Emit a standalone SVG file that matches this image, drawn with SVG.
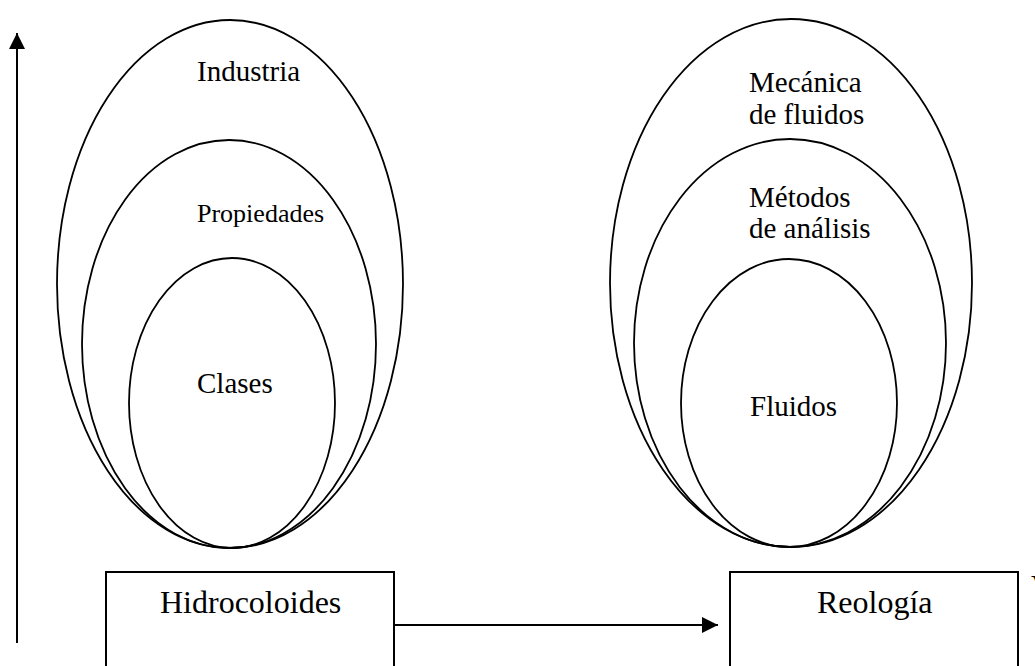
<svg xmlns="http://www.w3.org/2000/svg" width="1035" height="666" viewBox="0 0 1035 666">
  <defs>
    <marker id="arrowBig" viewBox="0 0 16 16" refX="16" refY="8" markerWidth="16" markerHeight="16" markerUnits="userSpaceOnUse" orient="auto">
      <path d="M0,0 L16,8 L0,16 z" fill="#000"/>
    </marker>
  </defs>
  <style>
    .ring { fill: none; stroke: #000; stroke-width: 1.8; }
    .box { fill: #fff; stroke: #000; stroke-width: 2; }
    .t { font-family: "Times New Roman", "Liberation Serif", Tinos, "DejaVu Serif", serif; fill: #000; }
    .big { font-size: 32px; }
    .mid { font-size: 29px; }
    .sm { font-size: 26px; }
    .link { stroke: #000; stroke-width: 2; fill: none; }
  </style>
  <rect width="1035" height="666" fill="#fff"/>

  <!-- Hidrocoloides: nested rings -->
  <g id="industria">
    <ellipse class="ring" cx="230" cy="284" rx="173" ry="264"/>
    <text class="t mid" x="197" y="81">Industria</text>
  </g>
  <g id="propiedades">
    <ellipse class="ring" cx="229" cy="344" rx="147" ry="204"/>
    <text class="t sm" x="197" y="222">Propiedades</text>
  </g>
  <g id="clases">
    <ellipse class="ring" cx="232" cy="403" rx="103" ry="145"/>
    <text class="t mid" x="197" y="393">Clases</text>
  </g>

  <!-- Reología: nested rings -->
  <g id="mecanica">
    <ellipse class="ring" cx="791" cy="283" rx="181" ry="264"/>
    <text class="t mid" x="749" y="92">Mecánica</text>
    <text class="t mid" x="749" y="124">de fluidos</text>
  </g>
  <g id="metodos">
    <ellipse class="ring" cx="790" cy="343" rx="156" ry="204"/>
    <text class="t mid" x="749" y="207">Métodos</text>
    <text class="t mid" x="749" y="238">de análisis</text>
  </g>
  <g id="fluidos">
    <ellipse class="ring" cx="789" cy="403" rx="108" ry="144"/>
    <text class="t mid" x="750" y="416">Fluidos</text>
  </g>

  <!-- Bottom boxes -->
  <g id="hidrocoloides">
    <rect class="box" x="106" y="572" width="288" height="110"/>
    <text class="t big" x="160" y="613">Hidrocoloides</text>
  </g>
  <g id="reologia">
    <rect class="box" x="730" y="572" width="288" height="110"/>
    <text class="t big" x="817" y="613">Reología</text>
  </g>
  <g id="edge-label">
    <text class="t big" x="1031" y="597">V</text>
  </g>

  <!-- Connectors -->
  <g id="connectors">
    <line class="link" x1="17" y1="643" x2="17" y2="33" marker-end="url(#arrowBig)"/>
    <line class="link" x1="394" y1="625" x2="718" y2="625" marker-end="url(#arrowBig)"/>
  </g>
</svg>
